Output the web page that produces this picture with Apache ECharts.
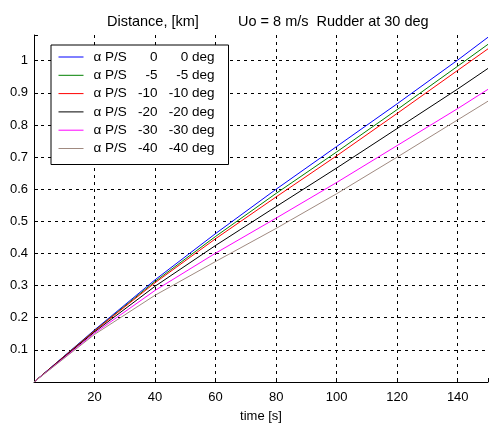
<!DOCTYPE html>
<html>
<head>
<meta charset="utf-8">
<script src="https://cdn.jsdelivr.net/npm/echarts@6/dist/echarts.min.js"></script>
<style>
html,body{margin:0;padding:0;background:#fff;}
#c{width:491px;height:428px;}
</style>
</head>
<body>
<div id="c"></div>
<script>
const times = [0, 20, 40, 60, 80, 100, 120, 140, 150];
const seriesNames = ['0', '-5', '-10', '-20', '-30', '-40'];
const dist0   = [0, 0.162, 0.318, 0.462, 0.600, 0.733, 0.866, 1.002, 1.073];
const dist5   = [0, 0.160, 0.313, 0.453, 0.587, 0.716, 0.848, 0.983, 1.051];
const dist10  = [0, 0.159, 0.309, 0.446, 0.576, 0.704, 0.836, 0.970, 1.037];
const dist20  = [0, 0.156, 0.298, 0.425, 0.546, 0.666, 0.789, 0.912, 0.976];
const dist30  = [0, 0.152, 0.285, 0.401, 0.510, 0.621, 0.736, 0.851, 0.911];
const dist40  = [0, 0.148, 0.270, 0.375, 0.478, 0.586, 0.700, 0.816, 0.874];
const colors = ['#0000ff', '#008000', '#ff0000', '#000000', '#ff00ff', '#a08a80'];
const xTicks = [20, 40, 60, 80, 100, 120, 140];
const yTicks = [0.1, 0.2, 0.3, 0.4, 0.5, 0.6, 0.7, 0.8, 0.9, 1];

const allDist = [dist0, dist5, dist10, dist20, dist30, dist40];
const FONT = 'Liberation Sans';

const series = allDist.map((d, i) => ({
  name: seriesNames[i],
  type: 'line',
  data: times.map((t, j) => [t, d[j]]),
  symbol: 'none',
  showSymbol: false,
  smooth: false,
  lineStyle: { width: 1, color: colors[i] },
  itemStyle: { color: colors[i] },
  animation: false
}));

const chart = echarts.init(document.getElementById('c'), null, { renderer: 'canvas' });
chart.setOption({
  animation: false,
  backgroundColor: '#ffffff',
  textStyle: { fontFamily: FONT },
  title: [
    { text: 'Distance, [km]', left: 102, top: 9, textStyle: { fontSize: 14.5, fontWeight: 'normal', color: '#000', fontFamily: FONT } },
    { text: 'Uo = 8 m/s  Rudder at 30 deg', left: 233, top: 9, textStyle: { fontSize: 14.5, fontWeight: 'normal', color: '#000', fontFamily: FONT } }
  ],
  grid: { left: 34, top: 35, width: 458, height: 350, containLabel: false },
  legend: {
    orient: 'vertical',
    left: 51, top: 45,
    padding: [5, 14, 9, 7],
    itemWidth: 25, itemHeight: 14, itemGap: 4.3,
    backgroundColor: '#ffffff',
    borderColor: '#000', borderWidth: 1,
    itemStyle: { opacity: 0, borderWidth: 0 },
    lineStyle: { width: 1 },
    data: seriesNames,
    formatter: function (name) {
      return '{a|\u03b1 P/S}{b|' + name + '}{c|' + name + ' deg}';
    },
    textStyle: {
      fontFamily: FONT, fontSize: 13.5, color: '#000',
      rich: {
        a: { width: 40, align: 'left', padding: [0, 0, 0, 5], fontFamily: FONT, fontSize: 13.5 },
        b: { width: 24, align: 'right', fontFamily: FONT, fontSize: 13.5 },
        c: { width: 57, align: 'right', fontFamily: FONT, fontSize: 13.5 }
      }
    }
  },
  xAxis: {
    type: 'value', min: 0, max: 150, interval: 20,
    name: 'time [s]', nameLocation: 'middle', nameGap: 28,
    nameTextStyle: { fontSize: 13, color: '#000', fontFamily: FONT },
    axisLine: { show: true, onZero: false, lineStyle: { color: '#000', width: 1 } },
    axisTick: { show: true, inside: true, length: 4, lineStyle: { color: '#000' } },
    axisLabel: {
      fontSize: 13, color: '#000', margin: 9, fontFamily: FONT,
      formatter: v => xTicks.indexOf(v) >= 0 ? String(v) : ''
    },
    splitLine: { show: true, showMinLine: false, showMaxLine: false, lineStyle: { color: '#000', type: [3, 4], width: 1 } }
  },
  yAxis: {
    type: 'value', min: 0, max: 1.08, interval: 0.1,
    axisLine: { show: true, onZero: false, lineStyle: { color: '#000', width: 1 } },
    axisTick: { show: true, inside: true, length: 4, lineStyle: { color: '#000' } },
    axisLabel: {
      fontSize: 13, color: '#000', margin: 6, fontFamily: FONT,
      formatter: v => {
        const r = Math.round(v * 10) / 10;
        return (Math.abs(v - r) < 1e-6 && yTicks.indexOf(r) >= 0) ? String(r) : '';
      }
    },
    splitLine: { show: true, showMinLine: false, showMaxLine: false, lineStyle: { color: '#000', type: [3, 4], width: 1 } }
  },
  series: series
});
</script>
</body>
</html>
